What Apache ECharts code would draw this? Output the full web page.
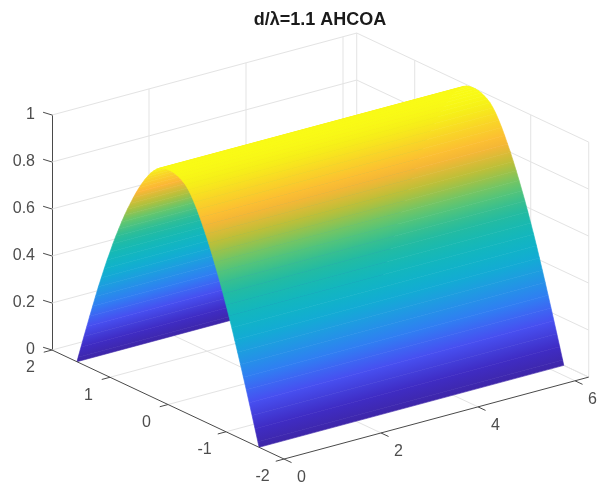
<!DOCTYPE html>
<html>
<head>
<meta charset="utf-8">
<style>html,body{margin:0;padding:0;background:#fff}#c{width:600px;height:488px}</style>
<script src="https://cdn.jsdelivr.net/npm/echarts@6/dist/echarts.min.js"></script>
</head>
<body>
<div id="c"></div>
<script>
const titleText = 'd/λ=1.1 AHCOA';
const xTicks = [0, 2, 4, 6];
const yTicks = [2, 1, 0, -1, -2];
const zTicks = [0, 0.2, 0.4, 0.6, 0.8, 1];
const xExtent = [0, 6.283];
const yExtent = [-2, 2];
const surfaceX = [0, 6.283];
const surfaceY = [1.57,1.55,1.5,1.45,1.4,1.35,1.3,1.25,1.2,1.15,1.1,1.05,1,0.95,0.9,0.85,0.8,0.75,0.7,0.65,0.6,0.55,0.5,0.45,0.4,0.35,0.3,0.25,0.2,0.15,0.1,0.05,0,-0.05,-0.1,-0.15,-0.2,-0.25,-0.3,-0.35,-0.4,-0.45,-0.5,-0.55,-0.6,-0.65,-0.7,-0.75,-0.8,-0.85,-0.9,-0.95,-1,-1.05,-1.1,-1.15,-1.2,-1.25,-1.3,-1.35,-1.4,-1.45,-1.5,-1.55,-1.57];
const surfaceZ = [0,0.021,0.071,0.121,0.17,0.219,0.267,0.315,0.362,0.406,0.45,0.493,0.533,0.574,0.612,0.648,0.684,0.718,0.75,0.78,0.81,0.838,0.864,0.888,0.911,0.931,0.95,0.965,0.978,0.988,0.995,0.999,1,1,0.998,0.994,0.988,0.98,0.97,0.955,0.936,0.913,0.888,0.86,0.83,0.8,0.767,0.733,0.697,0.66,0.622,0.582,0.54,0.498,0.454,0.408,0.362,0.315,0.267,0.219,0.17,0.121,0.071,0.021,0];
const colorStops = [[0,'#3e26a8'],[0.07,'#3f2cc4'],[0.18,'#4852f4'],[0.27,'#2f80f2'],[0.35,'#1f9ae2'],[0.425,'#10b0d0'],[0.52,'#14b8b8'],[0.6,'#28bc9c'],[0.68,'#60c670'],[0.76,'#b8c038'],[0.84,'#fdb636'],[0.91,'#f9d428'],[0.97,'#f6f018'],[1,'#f9fb15']];

// Oblique 3D projection onto the plot plane: horizontal in plot widths, vertical in z units
function project(x, y, z) {
  return [(x * 48.5 + (2 - y) * 58) / 537, z + x * 0.0555 + (y - 2) * 0.116];
}
function hex(c){return [1,3,5].map(i=>parseInt(c.substr(i,2),16));}
function colormap(z){
  for (let i=1;i<colorStops.length;i++){
    if (z<=colorStops[i][0]){
      const a=colorStops[i-1],b=colorStops[i],t=(z-a[0])/(b[0]-a[0]);
      const ca=hex(a[1]),cb=hex(b[1]);
      return 'rgb('+ca.map((v,k)=>Math.round(v+(cb[k]-v)*t)).join(',')+')';
    }
  }
  return colorStops[colorStops.length-1][1];
}

const strips = surfaceZ.slice(0,-1).map((z,i)=>[surfaceY[i],surfaceY[i+1],z,surfaceZ[i+1]]);

const [x0,x1]=xExtent, [y0,y1]=yExtent;
const gridSegs = [];
zTicks.forEach(z=>{
  gridSegs.push([x0,y1,z,x1,y1,z]);
  gridSegs.push([x1,y1,z,x1,y0,z]);
});
xTicks.filter(x=>x>0).concat([x1]).forEach(x=>{
  gridSegs.push([x,y1,0,x,y1,1]);
  gridSegs.push([x,y0,0,x,y1,0]);
});
yTicks.filter(y=>y<2).forEach(y=>{
  gridSegs.push([x1,y,0,x1,y,1]);
  if (y>-2) gridSegs.push([x0,y,0,x1,y,0]);
});

const axisSegs = [[x0,y1,0,x0,y0,0],[x0,y0,0,x1,y0,0]];
yTicks.forEach(y=>axisSegs.push([x0,y,0,x0-0.17,y,0]));
xTicks.forEach(x=>axisSegs.push([x,y0,0,x,y0-0.13,0]));
zTicks.forEach(z=>axisSegs.push([x0,y1,z,x0-0.04,y1+0.12,z]));

const textData = yTicks.map(y=>[x0,y,0,-21.5,18,String(y)]).concat(xTicks.map(x=>[x,y0,0,17.5,18.5,String(x)]));

function segRender(color){
  return function(params,api){
    const a=api.coord(project(api.value(0),api.value(1),api.value(2)));
    const b=api.coord(project(api.value(3),api.value(4),api.value(5)));
    return {type:'line',shape:{x1:a[0],y1:a[1],x2:b[0],y2:b[1]},style:{stroke:color,lineWidth:1}};
  };
}
const chart = echarts.init(document.getElementById('c'),null,{renderer:'canvas'});
chart.setOption({
  animation:false,
  backgroundColor:'#fff',
  title:{text:titleText,left:315,top:6,textAlign:'center',textStyle:{fontFamily:'Liberation Sans',fontSize:18,fontWeight:'bold',color:'#1a1a1a'}},
  grid:{left:52,top:115,width:537,height:235},
  xAxis:{type:'value',min:0,max:1,show:false},
  yAxis:{type:'value',min:0,max:1,interval:0.2,
    axisLine:{show:true,lineStyle:{color:'#4a4a4a',width:1}},
    axisTick:{show:false},splitLine:{show:false},
    axisLabel:{margin:17,padding:[0,0,5,0],color:'#4d4d4d',fontFamily:'Liberation Sans',fontSize:16}},
  series:[
    {type:'custom',name:'grid',coordinateSystem:'cartesian2d',clip:false,silent:true,z:1,data:gridSegs,renderItem:segRender('#e3e3e3')},
    {type:'custom',name:'surface',coordinateSystem:'cartesian2d',clip:false,silent:true,z:2,data:strips,
      renderItem:function(params,api){
        const ya=api.value(0),yb=api.value(1),za=api.value(2),zb=api.value(3);
        const pts=[[surfaceX[0],ya,za],[surfaceX[1],ya,za],[surfaceX[1],yb,zb],[surfaceX[0],yb,zb]]
          .map(p=>api.coord(project(p[0],p[1],p[2])));
        // gradient across the strip, perpendicular to its long edge
        const dx=pts[1][0]-pts[0][0],dy=pts[1][1]-pts[0][1],len=Math.hypot(dx,dy);
        const nx=-dy/len,ny=dx/len;
        const d=(pts[3][0]-pts[0][0])*nx+(pts[3][1]-pts[0][1])*ny;
        const ca=colormap(za),cb=colormap(zb);
        const fill=new echarts.graphic.LinearGradient(pts[0][0],pts[0][1],pts[0][0]+nx*d,pts[0][1]+ny*d,[{offset:0,color:ca},{offset:1,color:cb}],true);
        return {type:'polygon',shape:{points:pts},style:{fill:fill,stroke:fill,lineWidth:0.6}};
      }},
    {type:'custom',name:'axes',coordinateSystem:'cartesian2d',clip:false,silent:true,z:3,data:axisSegs,renderItem:segRender('#4a4a4a')},
    {type:'custom',name:'tickLabels',coordinateSystem:'cartesian2d',clip:false,silent:true,z:4,data:textData,
      dimensions:['x','y','z','dx','dy',{name:'t',type:'ordinal'}],
      renderItem:function(params,api){
        const d=textData[params.dataIndex];
        const p=api.coord(project(d[0],d[1],d[2]));
        return {type:'text',x:p[0]+d[3],y:p[1]+d[4],style:{text:d[5],fill:'#4d4d4d',font:'16px "Liberation Sans"',align:'center',verticalAlign:'middle'}};
      }}
  ]
});
</script>
</body>
</html>
